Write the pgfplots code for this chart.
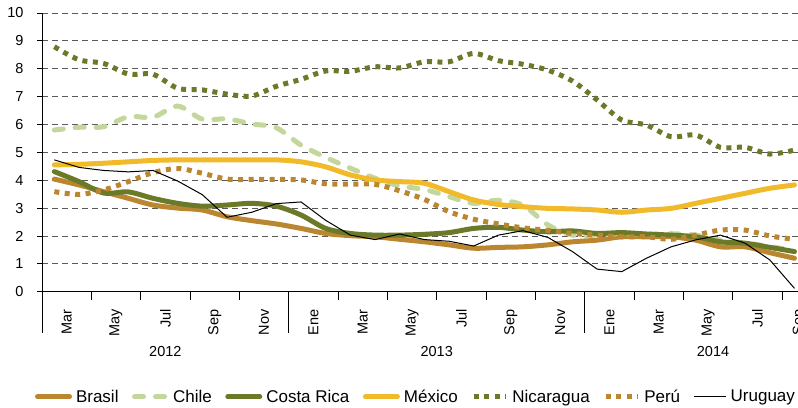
\documentclass[border=0pt]{standalone}
\usepackage{pgfplots}
\pgfplotsset{compat=1.18}
\usepackage{pgfplotstable}
\usepackage{fontspec}
\setmainfont{Liberation Sans}
\definecolor{cBr}{RGB}{186,134,47}
\definecolor{cCh}{RGB}{195,214,155}
\definecolor{cCR}{RGB}{107,122,41}
\definecolor{cMx}{RGB}{240,186,42}

\pgfplotstableread{
i  br   ch   cr   mx   ni   pe   ur
0  4.04 5.80 4.31 4.55 8.79 3.59 4.73
1  3.83 5.90 3.95 4.57 8.32 3.49 4.46
2  3.59 5.92 3.54 4.61 8.19 3.65 4.35
3  3.35 6.28 3.58 4.66 7.81 3.95 4.30
4  3.11 6.26 3.35 4.71 7.80 4.27 4.35
5  3.00 6.66 3.17 4.73 7.30 4.42 3.97
6  2.93 6.19 3.07 4.73 7.24 4.25 3.48
7  2.69 6.20 3.11 4.73 7.09 4.04 2.67
8  2.55 6.02 3.17 4.73 7.02 4.03 2.85
9  2.43 5.88 3.07 4.73 7.37 4.03 3.16
10 2.27 5.26 2.75 4.66 7.62 4.01 3.22
11 2.09 4.82 2.27 4.48 7.92 3.87 2.56
12 2.01 4.43 2.09 4.19 7.91 3.86 2.03
13 1.97 4.07 2.03 4.01 8.07 3.85 1.87
14 1.88 3.79 2.03 3.95 8.03 3.62 2.07
15 1.79 3.67 2.06 3.89 8.25 3.31 1.87
16 1.68 3.41 2.12 3.59 8.25 2.87 1.81
17 1.56 3.17 2.27 3.29 8.55 2.60 1.64
18 1.59 3.28 2.31 3.13 8.29 2.43 2.03
19 1.61 3.10 2.21 3.05 8.16 2.29 2.19
20 1.68 2.40 2.15 2.99 7.95 2.20 1.95
21 1.79 2.03 2.18 2.97 7.56 2.09 1.44
22 1.85 2.03 2.09 2.93 6.88 2.03 0.81
23 1.97 2.09 2.12 2.85 6.16 1.97 0.72
24 1.97 2.06 2.07 2.93 5.98 1.97 1.20
25 1.97 2.08 2.03 2.99 5.56 1.88 1.61
26 1.85 2.03 1.97 3.17 5.62 2.03 1.86
27 1.61 1.85 1.79 3.35 5.18 2.21 2.03
28 1.61 1.75 1.74 3.53 5.18 2.21 1.74
29 1.40 1.62 1.59 3.71 4.94 2.00 1.14
30 1.20 1.48 1.44 3.83 5.08 1.88 0.12
}\datatable

\begin{document}
\begin{tikzpicture}
\begin{axis}[
  scale only axis,
  width=764.8pt, height=278.7pt,
  xmin=-0.5, xmax=30.5, ymin=0, ymax=10,
  clip=false,
  axis lines*=left,
  axis line style={black, line width=0.9pt},
  ytick={0,1,...,10},
  xtick={0.5,2.5,4.5,6.5,8.5,10.5,12.5,14.5,16.5,18.5,20.5,22.5,24.5,26.5,28.5,30.2},
  xticklabels={Mar,May,Jul,Sep,Nov,Ene,Mar,May,Jul,Sep,Nov,Ene,Mar,May,Jul,Sep},
  minor xtick={-0.5,1.5,3.5,5.5,7.5,9.5,11.5,13.5,15.5,17.5,19.5,21.5,23.5,25.5,27.5,29.5},
  major x tick style={draw=none},
  minor x tick style={black, line width=0.8pt},
  ytick style={black, line width=0.8pt},
  tick align=outside,
  major tick length=5pt,
  minor tick length=8pt,
  ymajorgrids=true, xmajorgrids=false,
  major grid style={black!65, line width=0.8pt, dash pattern=on 6pt off 4pt},
  /pgf/number format/assume math mode=true,
  tick label style={font=\fontsize{14.5}{17}\selectfont},
  xticklabel style={rotate=90, anchor=east},
  xticklabel shift=9pt,
  yticklabel shift=10pt,
  legend columns=-1,
  legend cell align=left,
  legend style={at={(0.489,-0.377)}, anchor=center, draw=none,
    font=\fontsize{17}{20}\selectfont,
    /tikz/every odd column/.append style={column sep=2pt},
    /tikz/every even column/.append style={column sep=11.5pt}},
  legend image code/.code={\draw[#1] (0pt,0pt) -- (32pt,0pt);},
]
\addplot[cBr, line width=5pt, smooth, line cap=round, line join=round] table[x=i,y=br] {\datatable};
\addlegendentry{Brasil}
\addplot[cCh, line width=5pt, smooth, line cap=round, dash pattern=on 9pt off 12pt] table[x=i,y=ch] {\datatable};
\addlegendentry{Chile}
\addplot[cCR, line width=5pt, smooth, line cap=round, line join=round] table[x=i,y=cr] {\datatable};
\addlegendentry{Costa Rica}
\addplot[cMx, line width=5pt, smooth, line cap=round, line join=round] table[x=i,y=mx] {\datatable};
\addlegendentry{México}
\addplot[cCR, line width=5pt, smooth, line cap=butt, dash pattern=on 5pt off 5.5pt] table[x=i,y=ni] {\datatable};
\addlegendentry{Nicaragua}
\addplot[cBr, line width=5pt, smooth, line cap=butt, dash pattern=on 5pt off 5.5pt] table[x=i,y=pe] {\datatable};
\addlegendentry{Perú}
\addplot[black, line width=1pt] table[x=i,y=ur] {\datatable};
\addlegendentry{Uruguay}

\draw[black, line width=0.9pt] (axis cs:-0.5,0) -- ([yshift=-41pt]axis cs:-0.5,0);
\draw[black, line width=0.9pt] (axis cs:9.5,0) -- ([yshift=-41pt]axis cs:9.5,0);
\draw[black, line width=0.9pt] (axis cs:21.5,0) -- ([yshift=-41pt]axis cs:21.5,0);
\node[font=\fontsize{14.5}{17}\selectfont] at ([yshift=-60pt]axis cs:4.5,0) {2012};
\node[font=\fontsize{14.5}{17}\selectfont] at ([yshift=-60pt]axis cs:15.5,0) {2013};
\node[font=\fontsize{14.5}{17}\selectfont] at ([yshift=-60pt]axis cs:26.7,0) {2014};
\coordinate (bl) at (rel axis cs:0,0);
\coordinate (tl) at (rel axis cs:0,1);
\end{axis}
\pgfresetboundingbox
\path[use as bounding box] ([shift={(-42pt,-116.3pt)}]bl) rectangle ([shift={(756pt,13pt)}]tl);
\end{tikzpicture}
\end{document}
